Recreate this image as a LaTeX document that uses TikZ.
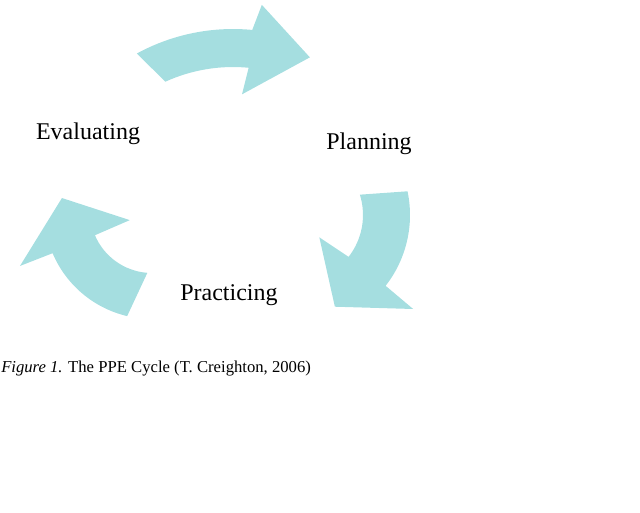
\documentclass[tikz,border=0pt]{standalone}
\usepackage{fontspec}
\setmainfont{Liberation Serif}
\definecolor{arrowcyan}{RGB}{165,222,224}
\tikzset{
  cyclearrow/.style={fill=arrowcyan,draw=none},
  steplabel/.style={anchor=base,inner sep=0pt,font=\fontsize{18}{22}\selectfont},
  caption/.style={anchor=base west,inner sep=0pt,font=\fontsize{12.5}{15}\selectfont}
}
\begin{document}
\begin{tikzpicture}[x=0.75pt,y=-0.75pt]
  \useasboundingbox (0,0) rectangle (640,512);
  % Pile
  \fill[cyclearrow,shift={(233,230)}] (-118.6:201) arc[start angle=-118.6,end angle=-84.5,radius=201]
    -- (-82.7:227) -- (-66:189) -- (-86.2:136) -- (-84.5:163)
    arc[start angle=-84.5,end angle=-114.5,radius=163] -- cycle;
  \fill[cyclearrow,shift={(295,215)}] (-11.9:115) arc[start angle=-11.9,end angle=38,radius=115]
    -- (38.5:151) -- (66.5:100) -- (42.5:33) -- (38:68)
    arc[start angle=38,end angle=-17.4,radius=68] -- cycle;
  \fill[cyclearrow,shift={(152,211)}] (103.3:108) arc[start angle=103.3,end angle=157,radius=108]
    -- (157.4:143) -- (188.2:91) -- (157.7:24) -- (157:62)
    arc[start angle=157,end angle=94.3,radius=62] -- cycle;
  % Faser
  \node[steplabel] (eval) at (88,139) {Evaluating};
  \node[steplabel] (plan) at (369,149) {Planning};
  \node[steplabel] (prac) at (229,300) {Practicing};
  % Tekst
  \node[caption] (cap) at (1,372) {\textit{Figure 1.} The PPE Cycle (T. Creighton, 2006)};
\end{tikzpicture}
\end{document}
